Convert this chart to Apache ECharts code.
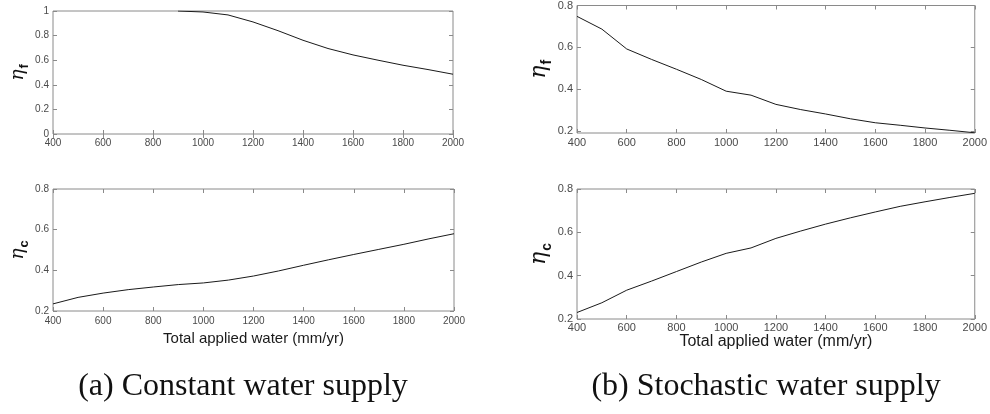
<!DOCTYPE html>
<html>
<head>
<meta charset="utf-8">
<title>Water use efficiency vs. total applied water</title>
<script src="https://cdn.jsdelivr.net/npm/echarts@6/dist/echarts.min.js"></script>
<style>
  html, body { margin: 0; padding: 0; background: #ffffff; }
  #chart { width: 990px; height: 414px; }
</style>
</head>
<body>
<div id="chart"></div>
<script>
// Total applied water (mm/yr), shared by every panel
const waterApplied = [400, 500, 600, 700, 800, 900, 1000, 1100, 1200, 1300, 1400, 1500, 1600, 1700, 1800, 1900, 2000];

// (a) constant supply
const etaFConstant = [null, null, null, null, null, 1.0, 0.992, 0.968, 0.911, 0.84, 0.762, 0.695, 0.643, 0.600, 0.559, 0.524, 0.486];
const etaCConstant = [0.235, 0.267, 0.288, 0.305, 0.318, 0.330, 0.338, 0.352, 0.372, 0.397, 0.425, 0.452, 0.478, 0.503, 0.528, 0.555, 0.580];

// (b) stochastic supply
const etaFStochastic = [0.748, 0.687, 0.592, 0.542, 0.495, 0.446, 0.390, 0.371, 0.327, 0.302, 0.281, 0.258, 0.239, 0.227, 0.214, 0.203, 0.191];
const etaCStochastic = [0.230, 0.275, 0.333, 0.375, 0.419, 0.463, 0.503, 0.528, 0.572, 0.606, 0.638, 0.667, 0.694, 0.720, 0.741, 0.761, 0.780];

// Axis tick labels
const xTicks = [400, 600, 800, 1000, 1200, 1400, 1600, 1800, 2000];
const yTicksFConstant = [0, 0.2, 0.4, 0.6, 0.8, 1];
const yTicksCConstant = [0.2, 0.4, 0.6, 0.8];
const yTicksFStochastic = [0.2, 0.4, 0.6, 0.8];
const yTicksCStochastic = [0.2, 0.4, 0.6, 0.8];

const axisTitleX = 'Total applied water (mm/yr)';
const captionA = '(a) Constant water supply';
const captionB = '(b) Stochastic water supply';

const BOX = '#8a8a8a';
const LABEL = '#4a4a4a';
const SANS = '"Liberation Sans", Arial, sans-serif';

function pairs(ys) {
  const out = [];
  ys.forEach((y, i) => { if (y !== null) out.push([waterApplied[i], y]); });
  return out;
}

function fmt(v) { return String(v); }

const panels = [
  { grid: { left: 53, top: 11, width: 400, height: 123 }, y: etaFConstant, ticks: yTicksFConstant,
    yMin: 0, yMax: 1, sub: 'f', labelSize: 10, xMargin: 4, title: false, nameGap: 18, etaSize: 19, subSize: 13 },
  { grid: { left: 53, top: 189, width: 401, height: 122 }, y: etaCConstant, ticks: yTicksCConstant,
    yMin: 0.2, yMax: 0.8, sub: 'c', labelSize: 10, xMargin: 5, title: true, titleSize: 15, titleGap: 20, nameGap: 18, etaSize: 19, subSize: 13 },
  { grid: { left: 577, top: 3, width: 401, height: 130 }, y: etaFStochastic, ticks: yTicksFStochastic,
    yMin: 0.19, yMax: 0.8, sub: 'f', labelSize: 11, xMargin: 4, title: false, nameGap: 18, etaSize: 22, subSize: 14 },
  { grid: { left: 577, top: 189, width: 401, height: 130 }, y: etaCStochastic, ticks: yTicksCStochastic,
    yMin: 0.2, yMax: 0.8, sub: 'c', labelSize: 11, xMargin: 3, title: true, titleSize: 16, titleGap: 11, nameGap: 18, etaSize: 22, subSize: 14 }
];

const grids = [], xAxes = [], yAxes = [], series = [];

panels.forEach((p, i) => {
  grids.push(Object.assign({ show: true, borderColor: BOX, borderWidth: 1, backgroundColor: 'transparent' }, p.grid));

  const tickStyle = { show: true, inside: true, length: 4, lineStyle: { color: BOX, width: 1 } };

  // bottom axis with labels
  xAxes.push({
    type: 'value', gridIndex: i, position: 'bottom', min: 400, max: 2000, interval: 200,
    axisLine: { show: false }, splitLine: { show: false },
    axisTick: Object.assign({ customValues: xTicks }, tickStyle),
    axisLabel: { customValues: xTicks, color: LABEL, fontSize: p.labelSize, fontFamily: SANS, margin: p.xMargin, formatter: fmt },
    name: p.title ? axisTitleX : '', nameLocation: 'middle', nameGap: p.titleGap || 0,
    nameTextStyle: { color: '#1a1a1a', fontSize: p.titleSize || 12, fontFamily: SANS }
  });
  // top axis: ticks only
  xAxes.push({
    type: 'value', gridIndex: i, position: 'top', min: 400, max: 2000, interval: 200,
    axisLine: { show: false }, splitLine: { show: false },
    axisTick: Object.assign({ customValues: xTicks }, tickStyle),
    axisLabel: { show: false }
  });
  // left axis with labels and the eta name
  yAxes.push({
    type: 'value', gridIndex: i, position: 'left', min: p.yMin, max: p.yMax,
    axisLine: { show: false }, splitLine: { show: false },
    axisTick: Object.assign({ customValues: p.ticks }, tickStyle),
    axisLabel: { customValues: p.ticks, color: LABEL, fontSize: p.labelSize, fontFamily: SANS, margin: 4, formatter: fmt },
    name: '{e|η}{s|' + p.sub + '}', nameLocation: 'middle', nameGap: p.nameGap, nameRotate: 90,
    nameTextStyle: {
      rich: {
        e: { fontSize: p.etaSize, fontStyle: 'italic', fontFamily: '"DejaVu Serif", serif', color: '#111', lineHeight: 24, verticalAlign: 'bottom' },
        s: { fontSize: p.subSize, fontWeight: 'bold', fontFamily: SANS, color: '#111', lineHeight: 24, verticalAlign: 'bottom', padding: [0, 0, -4, 1] }
      }
    }
  });
  // right axis: ticks only
  yAxes.push({
    type: 'value', gridIndex: i, position: 'right', min: p.yMin, max: p.yMax,
    axisLine: { show: false }, splitLine: { show: false },
    axisTick: Object.assign({ customValues: p.ticks }, tickStyle),
    axisLabel: { show: false }
  });

  series.push({
    type: 'line', xAxisIndex: 2 * i, yAxisIndex: 2 * i, data: pairs(p.y),
    showSymbol: false, symbol: 'none', silent: true, animation: false,
    lineStyle: { color: '#1a1a1a', width: 1 }
  });
});

const chart = echarts.init(document.getElementById('chart'), null, { renderer: 'canvas' });
chart.setOption({
  animation: false,
  backgroundColor: '#ffffff',
  grid: grids,
  xAxis: xAxes,
  yAxis: yAxes,
  series: series,
  graphic: [
    { type: 'text', x: 243, y: 387, style: { text: captionA, font: '32px "Liberation Serif", "Times New Roman", serif', fill: '#111', textAlign: 'center', textVerticalAlign: 'middle' } },
    { type: 'text', x: 766, y: 387, style: { text: captionB, font: '32px "Liberation Serif", "Times New Roman", serif', fill: '#111', textAlign: 'center', textVerticalAlign: 'middle' } }
  ]
});
</script>
</body>
</html>
